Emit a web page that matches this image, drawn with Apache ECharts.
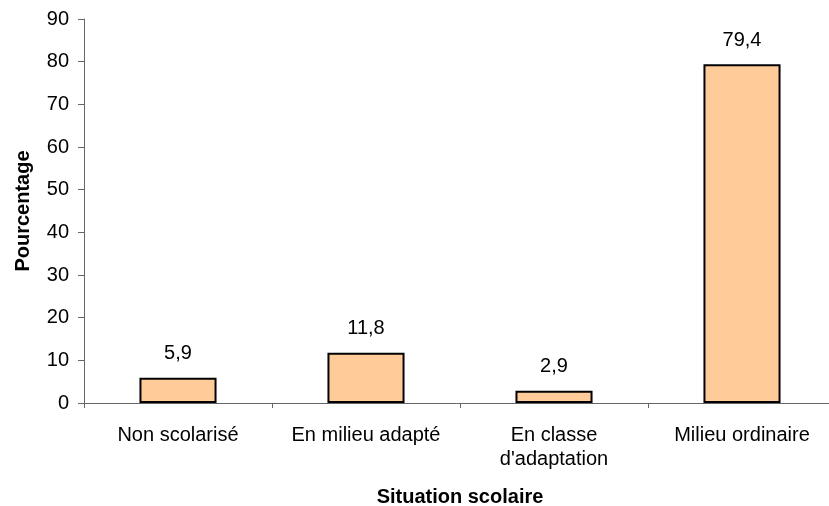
<!DOCTYPE html>
<html lang="fr">
<head>
    <meta charset="UTF-8">
    <title>Situation scolaire</title>
    <script src="https://cdn.jsdelivr.net/npm/echarts@6/dist/echarts.min.js"></script>
    <style>
        html, body { margin: 0; padding: 0; background: #fff; }
        #chart { width: 829px; height: 506px; }
    </style>
</head>
<body>
<div id="chart"></div>
<script type="text/javascript">
var categories = ['Non scolarisé', 'En milieu adapté', "En classe\nd'adaptation", 'Milieu ordinaire'];
var values = [5.9, 11.8, 2.9, 79.4];
var yTicks = [0, 10, 20, 30, 40, 50, 60, 70, 80, 90];

var font = 'Liberation Sans, Arial, sans-serif';
var myChart = echarts.init(document.getElementById('chart'));
var option = {
    animation: false,
    grid: { left: 84, right: -7, top: 19, bottom: 103, containLabel: false, outerBoundsMode: 'none' },
    xAxis: {
        type: 'category',
        data: categories,
        name: 'Situation scolaire',
        nameLocation: 'middle',
        nameGap: 84,
        nameMoveOverlap: false,
        nameTextStyle: { fontFamily: font, fontSize: 20, fontWeight: 'bold', color: '#000' },
        axisLine: { lineStyle: { color: '#666', width: 1 } },
        axisTick: { show: true, alignWithLabel: false, length: 5, lineStyle: { color: '#666' } },
        axisLabel: { interval: 0, hideOverlap: false, fontFamily: font, fontSize: 20, color: '#000', margin: 20, lineHeight: 24 }
    },
    yAxis: {
        type: 'value',
        min: yTicks[0],
        max: yTicks[yTicks.length - 1],
        interval: 10,
        name: 'Pourcentage',
        nameLocation: 'middle',
        nameGap: 51,
        nameMoveOverlap: false,
        nameTextStyle: { fontFamily: font, fontSize: 20, fontWeight: 'bold', color: '#000' },
        axisLine: { show: true, lineStyle: { color: '#666', width: 1 } },
        axisTick: { show: true, length: 6, lineStyle: { color: '#666' } },
        axisLabel: { fontFamily: font, fontSize: 20, color: '#000', margin: 15 },
        splitLine: { show: false }
    },
    series: [{
        type: 'bar',
        data: values,
        barWidth: '41%',
        itemStyle: { color: '#FFCC99', borderColor: '#000', borderWidth: 2 },
        label: {
            show: true,
            position: 'top',
            distance: 14,
            fontFamily: font,
            fontSize: 20,
            color: '#000',
            formatter: function (p) { return String(p.value).replace('.', ','); }
        }
    }]
};
myChart.setOption(option);
</script>
</body>
</html>
